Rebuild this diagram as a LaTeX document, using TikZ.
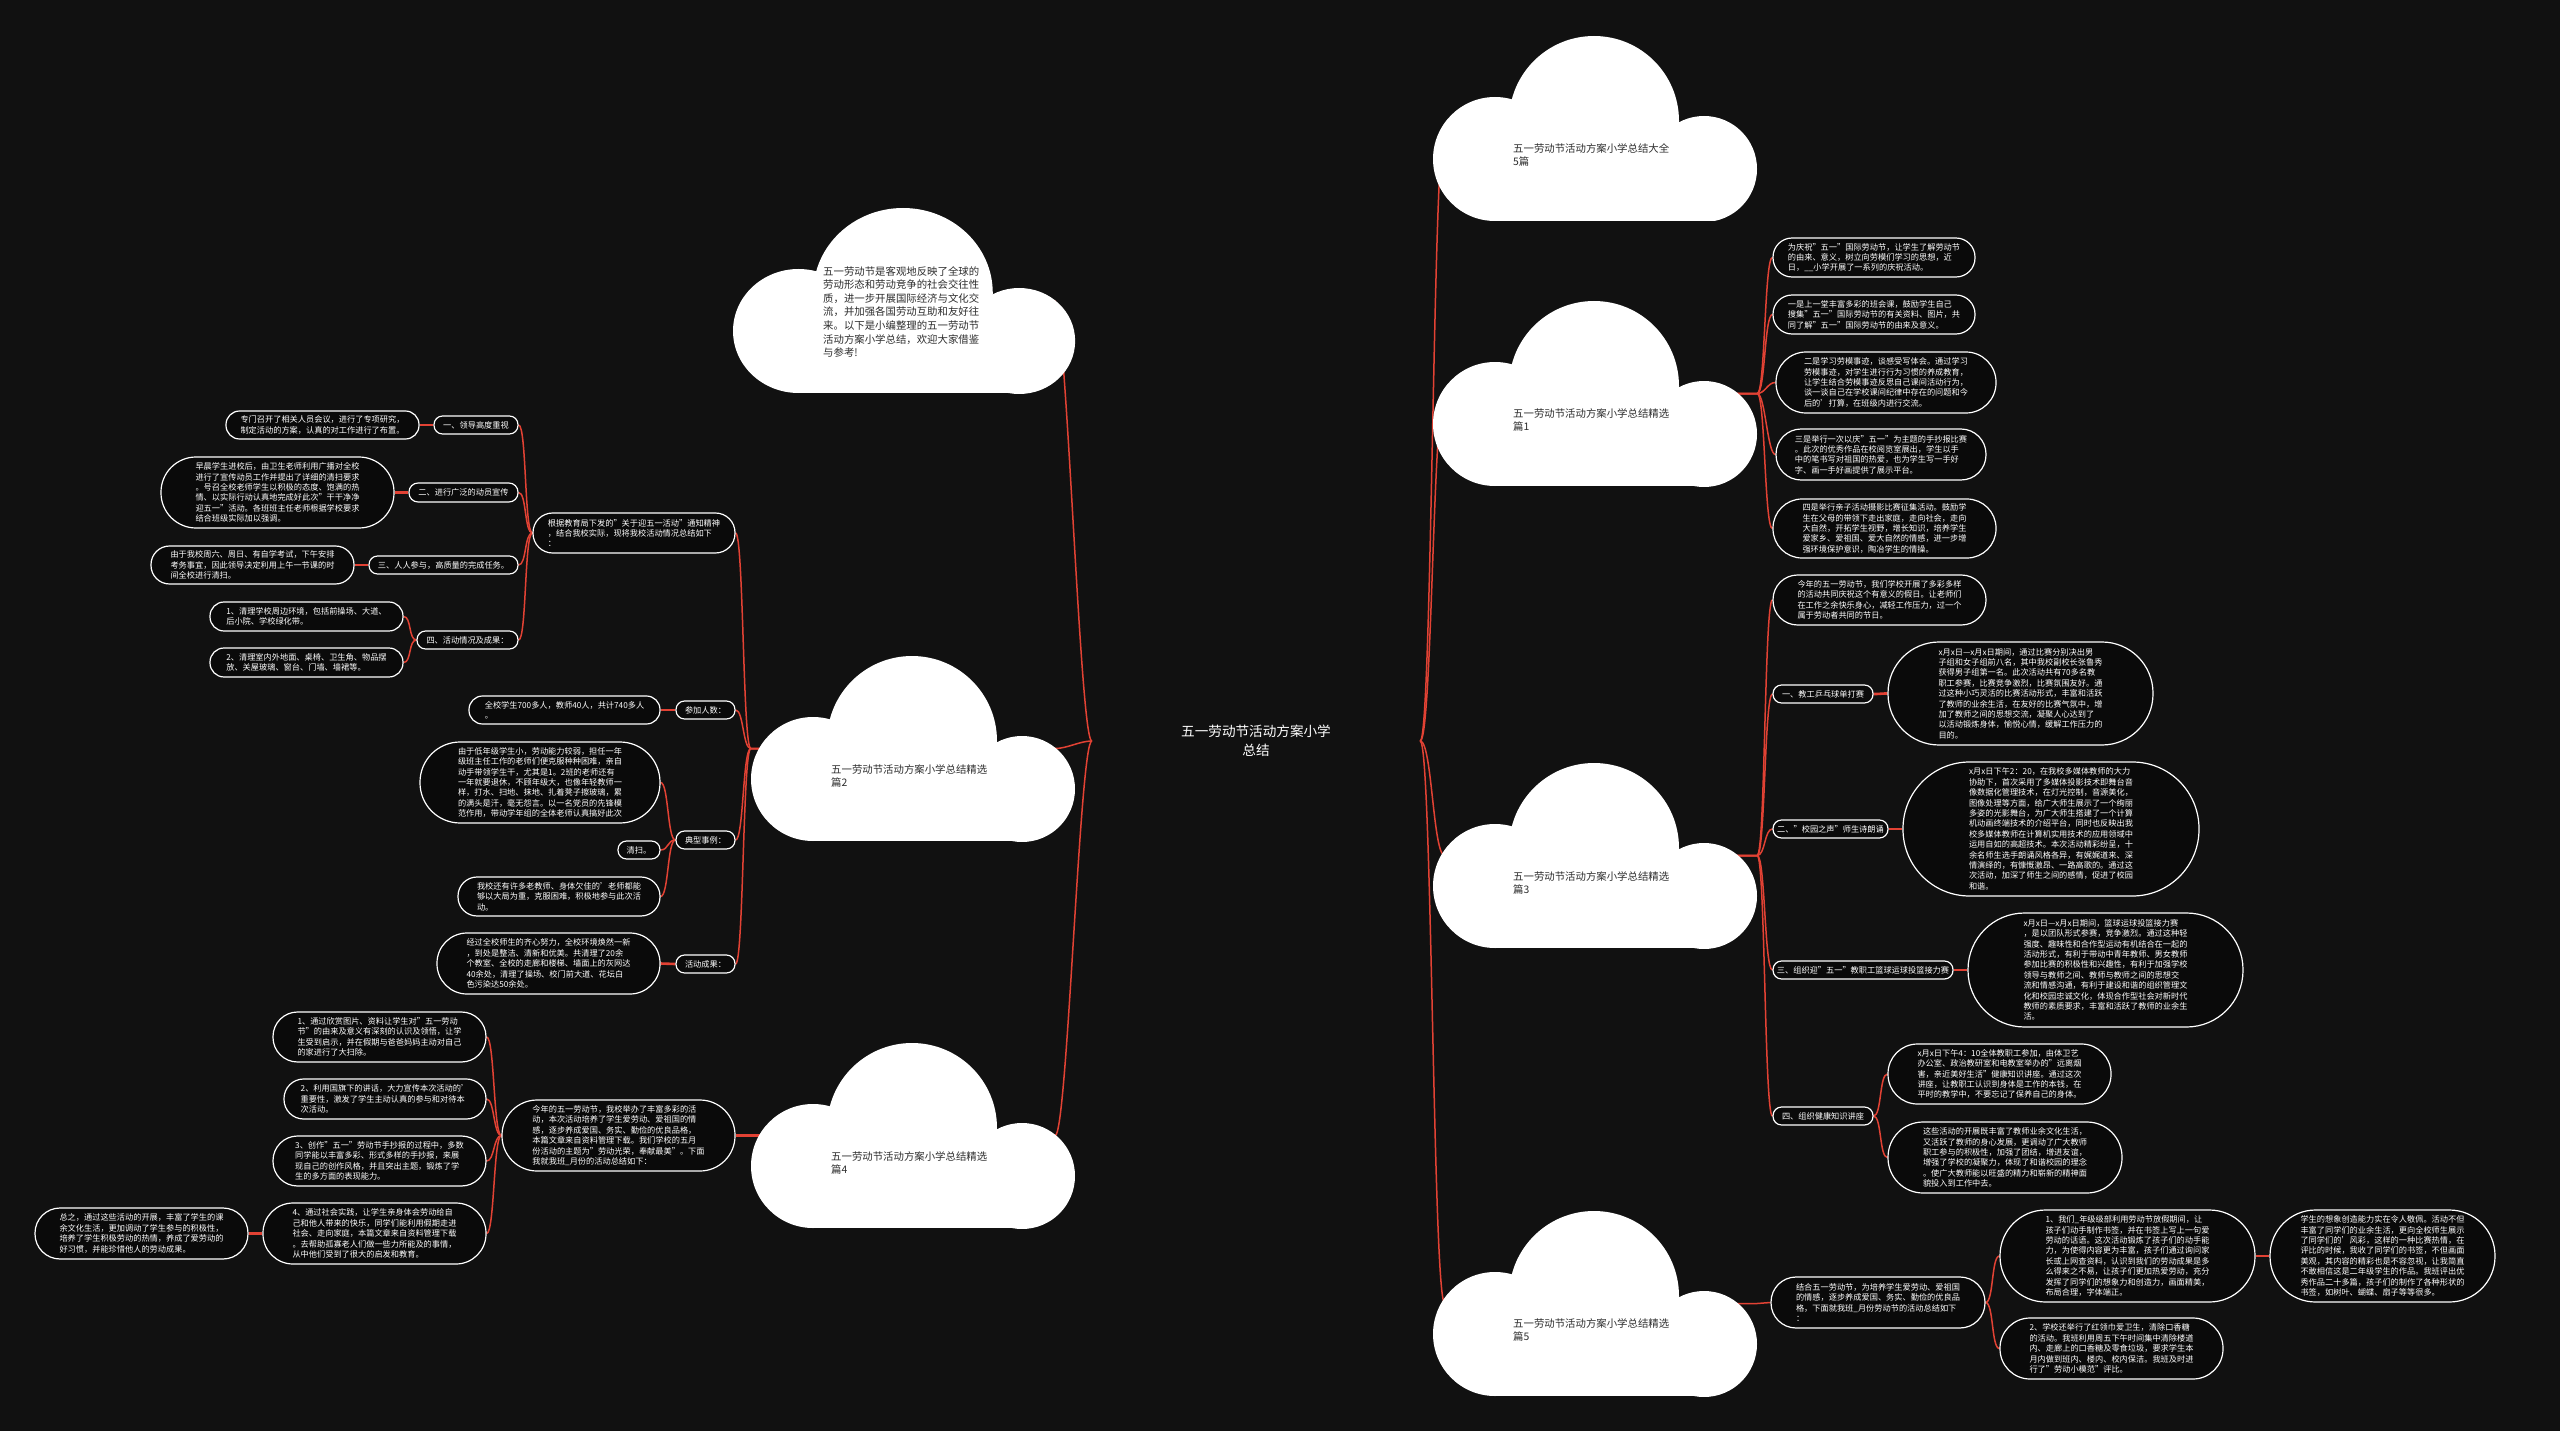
\documentclass[tikz,border=0pt]{standalone}
\usepackage{fontspec}
\setmainfont{Noto Sans CJK SC}
\usetikzlibrary{calc}
\pgfdeclarelayer{back}
\pgfdeclarelayer{lines}
\pgfsetlayers{back,lines,main}
\definecolor{bgc}{RGB}{17,17,17}
\definecolor{lred}{RGB}{226,66,52}
\definecolor{nfill}{RGB}{10,10,10}
\definecolor{ctextc}{RGB}{45,45,45}
\tikzset{
 tbox/.style={draw=white, line width=1.2pt, fill=nfill, text=white, font=\fontsize{8.2pt}{10.4pt}\selectfont, align=left, inner sep=0pt},
 conn/.style={draw=lred, line width=1.5pt},
 thk/.style={draw=lred, line width=2.6pt},
 ctxt/.style={text=ctextc, font=\fontsize{10.4pt}{13.6pt}\selectfont, align=left, inner sep=0pt, anchor=west},
 cbb/.style={inner sep=0pt, minimum height=185pt},
}
\newcommand\tbx[6]{\node[tbox, minimum width={#4-#2}, minimum height={#5-#3}, rounded corners={(#5-#3)/2-0.4}] (#1) at ({(#2+#4)/2},{(#3+#5)/2}) {#6};}
\newcommand\cloudat[4]{%
 \begin{scope}[shift={(#2,#3)}, xscale=#4]
 \begin{scope}
 \clip (-1,-1) rectangle (326,185);
 \fill[white] (161,85) circle[radius=85];
 \fill[white] (62,123) circle[radius=62];
 \fill[white] (271,133) circle[radius=53];
 \fill[white] (62,100) rectangle (271,185);
 \end{scope}
 \node[cbb, minimum width=324pt] (#1) at (162,92.5) {};
 \end{scope}}
\newcommand\rc[3][conn]{\draw[#1] (#2.east) .. controls +(8,0) and +(-8,0) .. (#3.west);}
\newcommand\lc[3][conn]{\draw[#1] (#2.west) .. controls +(-8,0) and +(8,0) .. (#3.east);}
\begin{document}
\begin{tikzpicture}[x=1pt,y=-1pt]
\useasboundingbox (0,0) rectangle (2560,1431);
\begin{pgfonlayer}{back}
\fill[bgc] (0,0) rectangle (2560,1431);
\end{pgfonlayer}

% root
\node[text=white, font=\fontsize{13.6pt}{19pt}\selectfont, align=center, minimum width=328pt, inner sep=0pt] (root) at (1256,741) {五一劳动节活动方案小学\\总结};

% clouds
\cloudat{cI}{733}{208}{1.056}
\node[ctxt] (tI) at (823,312) {五一劳动节是客观地反映了全球的\\劳动形态和劳动竞争的社会交往性\\质，进一步开展国际经济与文化交\\流，并加强各国劳动互助和友好往\\来。以下是小编整理的五一劳动节\\活动方案小学总结，欢迎大家借鉴\\与参考!};
\cloudat{c2}{751}{656}{1}
\node[ctxt] (t2) at (831,776) {五一劳动节活动方案小学总结精选\\篇2};
\cloudat{c4}{751}{1043}{1}
\node[ctxt] (t4) at (831,1163) {五一劳动节活动方案小学总结精选\\篇4};
\cloudat{c0}{1433}{36}{1}
\node[ctxt] (t0) at (1513,155) {五一劳动节活动方案小学总结大全\\5篇};
\cloudat{c1}{1433}{301}{1}
\node[ctxt] (t1) at (1513,420) {五一劳动节活动方案小学总结精选\\篇1};
\cloudat{c3}{1433}{763}{1}
\node[ctxt] (t3) at (1513,883) {五一劳动节活动方案小学总结精选\\篇3};
\cloudat{c5}{1433}{1211}{1}
\node[ctxt] (t5) at (1513,1330) {五一劳动节活动方案小学总结精选\\篇5};

% ---- left: 篇2
\tbx{A}{533}{513}{735}{553}{根据教育局下发的"关于迎五一活动"通知精神\\，结合我校实际，现将我校活动情况总结如下\\：}
\tbx{B1}{434}{416}{518}{434}{一、领导高度重视}
\tbx{C1}{226}{411}{419}{439}{专门召开了相关人员会议，进行了专项研究，\\制定活动的方案，认真的对工作进行了布置。}
\tbx{B2}{409}{483}{518}{502}{二、进行广泛的动员宣传}
\tbx{C2}{161}{457}{394}{528}{早晨学生进校后，由卫生老师利用广播对全校\\进行了宣传动员工作并提出了详细的清扫要求\\。号召全校老师学生以积极的态度、饱满的热\\情、以实际行动认真地完成好此次"干干净净\\迎五一"活动。各班班主任老师根据学校要求\\结合班级实际加以强调。}
\tbx{B3}{369}{556}{518}{574}{三、人人参与，高质量的完成任务。}
\tbx{C3}{151}{546}{354}{584}{由于我校周六、周日、有自学考试，下午安排\\考务事宜，因此领导决定利用上午一节课的时\\间全校进行清扫。}
\tbx{B4}{417}{631}{518}{649}{四、活动情况及成果：}
\tbx{C4a}{210}{602}{403}{631}{1、清理学校周边环境，包括前操场、大道、\\后小院、学校绿化带。}
\tbx{C4b}{210}{648}{403}{677}{2、清理室内外地面、桌椅、卫生角、物品摆\\放、关屋玻璃、窗台、门墙、墙裙等。}
\tbx{D1}{676}{701}{735}{719}{参加人数：}
\tbx{E1}{469}{696}{660}{724}{全校学生700多人，教师40人，共计740多人\\。}
\tbx{D2}{676}{831}{735}{849}{典型事例：}
\tbx{E2}{420}{742}{660}{823}{由于低年级学生小，劳动能力较弱，担任一年\\级班主任工作的老师们便克服种种困难，亲自\\动手带领学生干，尤其是1。2班的老师还有\\一年就要退休，不顾年级大，也像年轻教师一\\样，打水、扫地、抹地、扎着凳子擦玻璃，累\\的满头是汗，毫无怨言。以一名党员的先锋模\\范作用，带动学年组的全体老师认真搞好此次}
\tbx{E3}{618}{841}{660}{859}{清扫。}
\tbx{E4}{458}{877}{660}{916}{我校还有许多老教师、身体欠佳的'老师都能\\够以大局为重，克服困难，积极地参与此次活\\动。}
\tbx{D3}{676}{955}{735}{973}{活动成果：}
\tbx{E5}{437}{933}{660}{994}{经过全校师生的齐心努力，全校环境焕然一新\\，到处是整洁、清新和优美。共清理了20余\\个教室、全校的走廊和楼梯、墙面上的灰网达\\40余处，清理了操场、校门前大道、花坛白\\色污染达50余处。}

% ---- left: 篇4
\tbx{F}{502}{1100}{735}{1171}{今年的五一劳动节，我校举办了丰富多彩的活\\动，本次活动培养了学生爱劳动、爱祖国的情\\感，逐步养成爱国、务实、勤俭的优良品格，\\本篇文章来自资料管理下载。我们学校的五月\\份活动的主题为"劳动光荣，奉献最美"。下面\\我就我班\_月份的活动总结如下：}
\tbx{G1}{273}{1012}{486}{1062}{1、通过欣赏图片、资料让学生对"五一劳动\\节"的由来及意义有深刻的认识及领悟，让学\\生受到启示，并在假期与爸爸妈妈主动对自己\\的家进行了大扫除。}
\tbx{G2}{284}{1079}{486}{1119}{2、利用国旗下的讲话，大力宣传本次活动的'\\重要性，激发了学生主动认真的参与和对待本\\次活动。}
\tbx{G3}{273}{1136}{486}{1186}{3、创作"五一"劳动节手抄报的过程中，多数\\同学能以丰富多彩、形式多样的手抄报，来展\\现自己的创作风格，并且突出主题，锻炼了学\\生的多方面的表现能力。}
\tbx{G4}{263}{1203}{486}{1264}{4、通过社会实践，让学生亲身体会劳动给自\\己和他人带来的快乐，同学们能利用假期走进\\社会、走向家庭，本篇文章来自资料管理下载\\。去帮助孤寡老人们做一些力所能及的事情，\\从中他们受到了很大的启发和教育。}
\tbx{H}{35}{1208}{248}{1259}{总之，通过这些活动的开展，丰富了学生的课\\余文化生活，更加调动了学生参与的积极性，\\培养了学生积极劳动的热情，养成了爱劳动的\\好习惯，并能珍惜他人的劳动成果。}

% ---- right: 篇1
\tbx{R1a}{1773}{238}{1975}{277}{为庆祝"五一"国际劳动节，让学生了解劳动节\\的由来、意义，树立向劳模们学习的思想，近\\日，\_\_小学开展了一系列的庆祝活动。}
\tbx{R1b}{1773}{295}{1975}{334}{一是上一堂丰富多彩的班会课，鼓励学生自己\\搜集"五一"国际劳动节的有关资料、图片，共\\同了解"五一"国际劳动节的由来及意义。}
\tbx{R1c}{1776}{352}{1996}{413}{二是学习劳模事迹，谈感受写体会。通过学习\\劳模事迹，对学生进行行为习惯的养成教育，\\让学生结合劳模事迹反思自己课间活动行为，\\谈一谈自己在学校课间纪律中存在的问题和今\\后的'打算，在班级内进行交流。}
\tbx{R1d}{1776}{429}{1986}{480}{三是举行一次以庆"五一"为主题的手抄报比赛\\。此次的优秀作品在校阅览室展出，学生以手\\中的笔书写对祖国的热爱，也为学生写一手好\\字、画一手好画提供了展示平台。}
\tbx{R1e}{1773}{499}{1996}{558}{四是举行亲子活动摄影比赛征集活动。鼓励学\\生在父母的带领下走出家庭，走向社会，走向\\大自然，开拓学生视野，增长知识，培养学生\\爱家乡、爱祖国、爱大自然的情感，进一步增\\强环境保护意识，陶冶学生的情操。}

% ---- right: 篇3
\tbx{R3a}{1773}{575}{1986}{625}{今年的五一劳动节，我们学校开展了多彩多样\\的活动共同庆祝这个有意义的假日。让老师们\\在工作之余快乐身心，减轻工作压力，过一个\\属于劳动者共同的节日。}
\tbx{R3b}{1773}{685}{1873}{703}{一、教工乒乓球单打赛}
\tbx{R3bt}{1888}{642}{2153}{745}{x月x日—x月x日期间，通过比赛分别决出男\\子组和女子组前八名，其中我校副校长张鲁秀\\获得男子组第一名。此次活动共有70多名教\\职工参赛，比赛竞争激烈，比赛氛围友好。通\\过这种小巧灵活的比赛活动形式，丰富和活跃\\了教师的业余生活，在友好的比赛气氛中，增\\加了教师之间的思想交流，凝聚人心达到了\\以活动锻炼身体，愉悦心情，缓解工作压力的\\目的。}
\tbx{R3c}{1773}{820}{1888}{838}{二、"校园之声"师生诗朗诵}
\tbx{R3ct}{1903}{762}{2199}{896}{x月x日下午2：20，在我校多媒体教师的大力\\协助下，首次采用了多媒体投影技术即舞台音\\像数据化管理技术，在灯光控制，音源美化，\\图像处理等方面，给广大师生展示了一个绚丽\\多姿的光影舞台，为广大师生搭建了一个计算\\机动画终端技术的介绍平台，同时也反映出我\\校多媒体教师在计算机实用技术的应用领域中\\运用自如的高超技术。本次活动精彩纷呈，十\\余名师生选手朗诵风格各异，有娓娓道来、深\\情演绎的，有慷慨激昂、一路高歌的。通过这\\次活动，加深了师生之间的感情，促进了校园\\和谐。}
\tbx{R3d}{1773}{961}{1953}{979}{三、组织迎"五一"教职工篮球运球投篮接力赛}
\tbx{R3dt}{1968}{913}{2243}{1027}{x月x日—x月x日期间，篮球运球投篮接力赛\\，是以团队形式参赛，竞争激烈。通过这种轻\\强度、趣味性和合作型运动有机结合在一起的\\活动形式，有利于带动中青年教师、男女教师\\参加比赛的积极性和兴趣性，有利于加强学校\\领导与教师之间、教师与教师之间的思想交\\流和情感沟通，有利于建设和谐的组织管理文\\化和校园忠诚文化，体现合作型社会对新时代\\教师的素质要求，丰富和活跃了教师的业余生\\活。}
\tbx{R3e}{1773}{1107}{1873}{1125}{四、组织健康知识讲座}
\tbx{R3e1}{1888}{1044}{2111}{1104}{x月x日下午4：10全体教职工参加，由体卫艺\\办公室、政治教研室和电教室举办的"远离烟\\害，亲近美好生活"健康知识讲座。通过这次\\讲座，让教职工认识到身体是工作的本钱，在\\平时的教学中，不要忘记了保养自己的身体。}
\tbx{R3e2}{1888}{1122}{2122}{1193}{这些活动的开展既丰富了教师业余文化生活，\\又活跃了教师的身心发展，更调动了广大教师\\职工参与的积极性，加强了团结，增进友谊，\\增强了学校的凝聚力，体现了和谐校园的理念\\。使广大教师能以旺盛的精力和崭新的精神面\\貌投入到工作中去。}

% ---- right: 篇5
\tbx{R5a}{1771}{1277}{1985}{1328}{结合五一劳动节，为培养学生爱劳动、爱祖国\\的情感，逐步养成爱国、务实、勤俭的优良品\\格，下面就我班\_月份劳动节的活动总结如下\\：}
\tbx{R5b}{2000}{1210}{2255}{1302}{1、我们\_年级级部利用劳动节放假期间，让\\孩子们动手制作书签，并在书签上写上一句爱\\劳动的话语。这次活动锻炼了孩子们的动手能\\力，为使得内容更为丰富，孩子们通过询问家\\长或上网查资料，认识到我们的劳动成果是多\\么得来之不易，让孩子们更加热爱劳动，充分\\发挥了同学们的想象力和创造力，画面精美，\\布局合理，字体端正。}
\tbx{R5bt}{2270}{1210}{2495}{1302}{学生的想象创造能力实在令人敬佩。活动不但\\丰富了同学们的业余生活，更向全校师生展示\\了同学们的'风彩，这样的一种比赛热情，在\\评比的时候，我收了同学们的书签，不但画面\\美观，其内容的精彩也是不容忽视，让我简直\\不敢相信这是二年级学生的作品。我班评出优\\秀作品二十多篇，孩子们的制作了各种形状的\\书签，如树叶、蝴蝶、扇子等等很多。}
\tbx{R5c}{2000}{1318}{2223}{1379}{2、学校还举行了红领巾爱卫生，清除口香糖\\的活动。我班利用周五下午时间集中清除楼道\\内、走廊上的口香糖及零食垃圾，要求学生本\\月内做到班内、楼内、校内保洁。我班及时进\\行了"劳动小模范"评比。}

% ---- connectors
\begin{pgfonlayer}{lines}
% root to clouds
\draw[conn] (root.west) .. controls +(-12,0) and +(12,0) .. ($(cI.east)+(-12,0)$);
\draw[conn] (root.west) .. controls +(-12,0) and +(12,0) .. ($(c2.east)+(-20,0)$);
\draw[conn] (root.west) .. controls +(-12,0) and +(12,0) .. ($(c4.east)+(-20,0)$);
\draw[conn] (root.east) .. controls +(12,0) and +(-12,0) .. ($(c0.west)+(12,0)$);
\draw[conn] (root.east) .. controls +(12,0) and +(-12,0) .. ($(c1.west)+(12,0)$);
\draw[conn] (root.east) .. controls +(12,0) and +(-12,0) .. ($(c3.west)+(12,0)$);
\draw[conn] (root.east) .. controls +(12,0) and +(-12,0) .. ($(c5.west)+(12,0)$);
% cloud 2
\foreach \t in {A,D1,D2,D3}{\draw[conn] ($(c2.west)+(12,0)$) -- (c2.west) .. controls +(-8,0) and +(8,0) .. (\t.east);}
\foreach \t in {B1,B2,B3,B4}{\lc{A}{\t}}
\lc[thk]{B1}{C1}
\lc[thk]{B2}{C2}
\lc[thk]{B3}{C3}
\lc{B4}{C4a}
\lc{B4}{C4b}
\lc[thk]{D1}{E1}
\lc{D2}{E2}
\lc{D2}{E3}
\lc{D2}{E4}
\lc[thk]{D3}{E5}
% cloud 4
\draw[thk] ($(c4.west)+(12,0)$) -- (c4.west) -- (F.east);
\foreach \t in {G1,G2,G3,G4}{\lc{F}{\t}}
\lc[thk]{G4}{H}
% cloud 1
\foreach \t in {R1a,R1b,R1c,R1d,R1e}{\draw[conn] ($(c1.east)+(-20,0)$) -- (c1.east) .. controls +(8,0) and +(-8,0) .. (\t.west);}
% cloud 3
\foreach \t in {R3a,R3b,R3c,R3d,R3e}{\draw[conn] ($(c3.east)+(-20,0)$) -- (c3.east) .. controls +(8,0) and +(-8,0) .. (\t.west);}
\rc[thk]{R3b}{R3bt}
\rc[thk]{R3c}{R3ct}
\rc[thk]{R3d}{R3dt}
\rc{R3e}{R3e1}
\rc{R3e}{R3e2}
% cloud 5
\draw[conn] ($(c5.east)+(-20,0)$) -- (c5.east) -- (R5a.west);
\rc{R5a}{R5b}
\rc{R5a}{R5c}
\rc{R5b}{R5bt}
\end{pgfonlayer}
\end{tikzpicture}
\end{document}
